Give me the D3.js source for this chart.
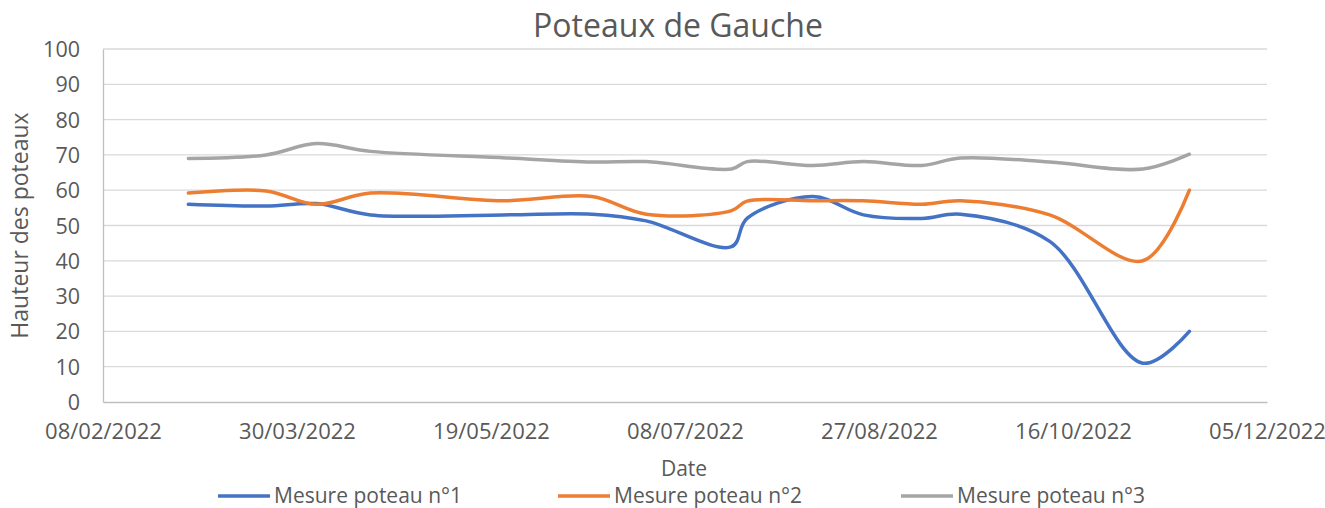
<!DOCTYPE html>
<html>
<head>
<meta charset="utf-8">
<style>
    body { margin: 0; background: #fff; }
    svg { display: block; }
    svg text { font-family: "Open Sans", sans-serif; }
    .grid line { stroke: #d9d9d9; stroke-width: 1.3; }
    .tick text { fill: #595959; }
    .series { fill: none; stroke-width: 3.5; stroke-linecap: round; stroke-linejoin: round; }
</style>
</head>
<body>
<script src="https://d3js.org/d3.v7.min.js"></script>
<script>

    var dates = ["02/03/2022", "22/03/2022", "04/04/2022", "18/04/2022", "22/05/2022", "14/06/2022",
                 "28/06/2022", "20/07/2022", "24/07/2022", "10/08/2022", "23/08/2022", "07/09/2022",
                 "17/09/2022", "10/10/2022", "03/11/2022", "15/11/2022"];
    var poteau1 = [56, 55.5, 56.2, 53, 53, 53.2, 51.3, 44, 52, 58.2, 53, 52, 53.2, 45.5, 11, 20];
    var poteau2 = [59.2, 59.8, 56, 59.2, 57, 58.2, 53.2, 54.2, 56.9, 57, 57, 56, 57, 53, 40, 60];
    var poteau3 = [69, 70, 73.2, 71, 69.2, 68, 68.1, 66, 68.1, 67, 68.1, 67, 69.1, 68, 66, 70.2];
    var seriesNames = ["Mesure poteau n°1", "Mesure poteau n°2", "Mesure poteau n°3"];
    var colors = ["#4472c4", "#ed7d31", "#a5a5a5"];
    var xTicks = ["08/02/2022", "30/03/2022", "19/05/2022", "08/07/2022", "27/08/2022", "16/10/2022", "05/12/2022"];
    var yTicks = [0, 10, 20, 30, 40, 50, 60, 70, 80, 90, 100];

    var parse = d3.utcParse("%d/%m/%Y");
    var width = 1325, height = 508;
    var plotLeft = 103, plotRight = 1267, plotTop = 49, plotBottom = 402;

    var svg = d3.select("body").append("svg")
        .attr("width", width)
        .attr("height", height);

    var x = d3.scaleUtc()
        .domain([parse(xTicks[0]), parse(xTicks[xTicks.length - 1])])
        .range([plotLeft, plotRight]);

    var y = d3.scaleLinear()
        .domain([0, 100])
        .range([plotBottom, plotTop]);

    // gridlines
    svg.append("g")
        .attr("class", "grid")
        .selectAll("line")
        .data(yTicks.slice(1))
        .enter().append("line")
        .attr("x1", plotLeft).attr("x2", plotRight)
        .attr("y1", function(d) { return y(d); })
        .attr("y2", function(d) { return y(d); });

    // axes
    var yAxis = svg.append("g")
        .attr("transform", "translate(" + plotLeft + ",0)")
        .call(d3.axisLeft(y).tickValues(yTicks).tickSize(0).tickPadding(23));
    yAxis.attr("font-family", null).attr("font-size", null);
    yAxis.select(".domain").attr("stroke", "#bfbfbf").attr("stroke-width", 1.3);
    yAxis.selectAll("text").style("font-size", "21.5px").attr("dy", "0.35em");

    var xAxis = svg.append("g")
        .attr("transform", "translate(0," + plotBottom + ")")
        .call(d3.axisBottom(x)
            .tickValues(xTicks.map(parse))
            .tickFormat(d3.utcFormat("%d/%m/%Y"))
            .tickSize(0).tickPadding(21));
    xAxis.attr("font-family", null).attr("font-size", null);
    xAxis.select(".domain").attr("stroke", "#bfbfbf").attr("stroke-width", 1.3);
    xAxis.selectAll("text").style("font-size", "22px");

    // lines
    var allSeries = [poteau1, poteau2, poteau3];
    var line = d3.line()
        .x(function(d, i) { return x(parse(dates[i])); })
        .y(function(d) { return y(d); })
        .curve(d3.curveCatmullRom.alpha(0.5));

    svg.append("g")
        .selectAll("path")
        .data(allSeries)
        .enter().append("path")
        .attr("class", "series")
        .attr("stroke", function(d, i) { return colors[i]; })
        .attr("d", line);

    // titles
    svg.append("text")
        .attr("x", 678).attr("y", 37)
        .attr("text-anchor", "middle")
        .attr("fill", "#595959")
        .style("font-size", "32px")
        .text("Poteaux de Gauche");

    svg.append("text")
        .attr("x", 684).attr("y", 476)
        .attr("text-anchor", "middle")
        .attr("fill", "#595959")
        .style("font-size", "21px")
        .text("Date");

    svg.append("text")
        .attr("transform", "translate(28," + ((plotTop + plotBottom) / 2) + ") rotate(-90)")
        .attr("text-anchor", "middle")
        .attr("fill", "#595959")
        .style("font-size", "23px")
        .text("Hauteur des poteaux");

    // legend
    var legendX = [218, 558, 901];
    var legend = svg.append("g")
        .selectAll("g")
        .data(seriesNames)
        .enter().append("g")
        .attr("transform", function(d, i) { return "translate(" + legendX[i] + ",496)"; });

    legend.append("line")
        .attr("x1", 0).attr("x2", 52)
        .attr("stroke", function(d, i) { return colors[i]; })
        .attr("stroke-width", 3.5);

    legend.append("text")
        .attr("x", 56).attr("y", 7)
        .attr("fill", "#595959")
        .style("font-size", "21px")
        .text(function(d) { return d; });

</script>
</body>
</html>
